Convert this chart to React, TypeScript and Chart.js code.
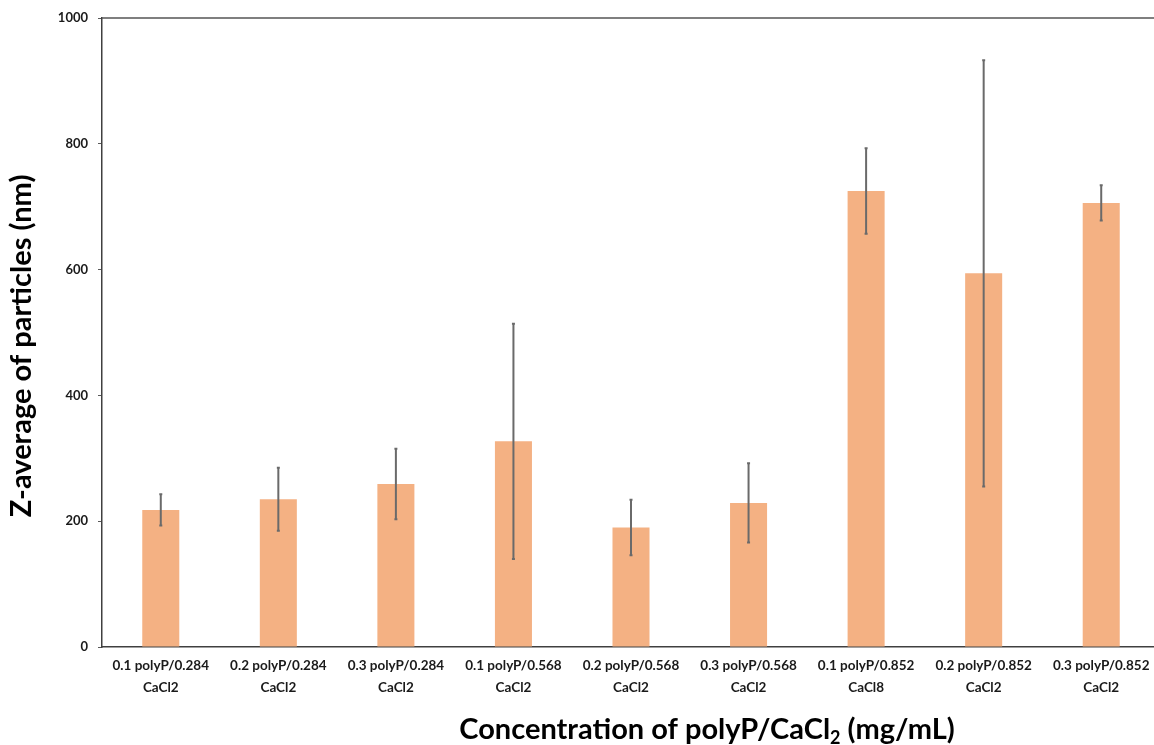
import React, { useEffect, useRef } from "react";
import { Chart, registerables } from "chart.js";

Chart.register(...registerables);

const categories: string[][] = [
  ["0.1 polyP/0.284", "CaCl2"],
  ["0.2 polyP/0.284", "CaCl2"],
  ["0.3 polyP/0.284", "CaCl2"],
  ["0.1 polyP/0.568", "CaCl2"],
  ["0.2 polyP/0.568", "CaCl2"],
  ["0.3 polyP/0.568", "CaCl2"],
  ["0.1 polyP/0.852", "CaCl8"],
  ["0.2 polyP/0.852", "CaCl2"],
  ["0.3 polyP/0.852", "CaCl2"],
];
const zAverage: number[] = [218, 235, 259, 327, 190, 229, 725, 594, 706];
const errors: number[] = [25, 50, 56, 187, 44, 63, 68, 339, 28];
const yTicks: number[] = [0, 200, 400, 600, 800, 1000];

const FONT = "Lato, 'Open Sans', sans-serif";

const errorBarPlugin = {
  id: "errorBars",
  afterDatasetsDraw(chart: any) {
    const ctx = chart.ctx;
    const x = chart.scales.x;
    const y = chart.scales.y;
    ctx.save();
    ctx.strokeStyle = "#6a6a6a";
    ctx.lineWidth = 2;
    zAverage.forEach((v, i) => {
      const cx = x.getPixelForValue(i);
      const top = y.getPixelForValue(v + errors[i]);
      const bot = y.getPixelForValue(v - errors[i]);
      ctx.beginPath();
      ctx.moveTo(cx, top);
      ctx.lineTo(cx, bot);
      ctx.moveTo(cx - 1.5, top);
      ctx.lineTo(cx + 1.5, top);
      ctx.moveTo(cx - 1.5, bot);
      ctx.lineTo(cx + 1.5, bot);
      ctx.stroke();
    });
    ctx.restore();
  },
};

const framePlugin = {
  id: "frameAndTitles",
  afterDraw(chart: any) {
    const ctx = chart.ctx;
    const a = chart.chartArea;
    ctx.save();
    ctx.strokeStyle = "#555555";
    ctx.lineWidth = 1.5;
    ctx.beginPath();
    ctx.moveTo(a.left, a.top);
    ctx.lineTo(a.right, a.top);
    ctx.stroke();

    ctx.fillStyle = "#000000";
    ctx.textBaseline = "alphabetic";
    const big = `bold 29px ${FONT}`;
    const small = `bold 18px ${FONT}`;
    const p1 = "Concentration of polyP/CaCl";
    const p2 = "2";
    const p3 = " (mg/mL)";
    ctx.font = big;
    const w1 = ctx.measureText(p1).width;
    const w3 = ctx.measureText(p3).width;
    ctx.font = small;
    const w2 = ctx.measureText(p2).width;
    const total = w1 + w2 + w3;
    const cx = 707;
    const base = 739;
    let sx = cx - total / 2;
    ctx.textAlign = "left";
    ctx.font = big;
    ctx.fillText(p1, sx, base);
    sx += w1;
    ctx.font = small;
    ctx.fillText(p2, sx, base + 5);
    sx += w2;
    ctx.font = big;
    ctx.fillText(p3, sx, base);

    ctx.translate(22, 346);
    ctx.rotate(-Math.PI / 2);
    ctx.textAlign = "center";
    ctx.textBaseline = "middle";
    ctx.font = big;
    ctx.fillText("Z-average of particles (nm)", 0, 0);
    ctx.restore();
  },
};

export default function App() {
  const ref = useRef<HTMLCanvasElement | null>(null);

  useEffect(() => {
    document.body.style.margin = "0";
    document.body.style.overflow = "hidden";
    document.body.style.background = "#ffffff";
    const canvas = ref.current;
    if (!canvas) return;
    const chart = new Chart(canvas, {
      type: "bar",
      data: {
        labels: categories,
        datasets: [
          {
            data: zAverage,
            backgroundColor: "#F4B183",
            borderWidth: 0,
            barPercentage: 0.315,
            categoryPercentage: 1,
          },
        ],
      },
      options: {
        animation: false,
        responsive: false,
        layout: { padding: { top: 18, right: 2, left: 0, bottom: 0 } },
        plugins: {
          legend: { display: false },
          tooltip: { enabled: false },
          title: { display: false },
        },
        scales: {
          x: {
            grid: { display: false },
            border: { display: true, color: "#404040", width: 1.5 },
            ticks: {
              color: "#1a1a1a",
              font: { family: FONT, size: 13.5, weight: "bold", lineHeight: 1.6 },
              padding: 0,
              maxRotation: 0,
              autoSkip: false,
            },
            afterFit(scale: any) {
              scale.height = 98;
            },
          },
          y: {
            min: 0,
            max: 1000,
            afterBuildTicks(scale: any) {
              scale.ticks = yTicks.map((v) => ({ value: v }));
            },
            grid: {
              display: true,
              drawOnChartArea: false,
              tickLength: 4,
              color: "#595959",
            },
            border: { display: true, color: "#404040", width: 1.5 },
            ticks: {
              color: "#1a1a1a",
              font: { family: FONT, size: 13, weight: "bold" },
              padding: 10,
              callback: (v: any) => String(v),
            },
            afterFit(scale: any) {
              scale.width = 102;
            },
          },
        },
      },
      plugins: [errorBarPlugin, framePlugin],
    });
    return () => chart.destroy();
  }, []);

  return (
    <div style={{ width: 1162, height: 745, overflow: "hidden" }}>
      <canvas ref={ref} width={1162} height={745} style={{ display: "block" }} />
    </div>
  );
}
